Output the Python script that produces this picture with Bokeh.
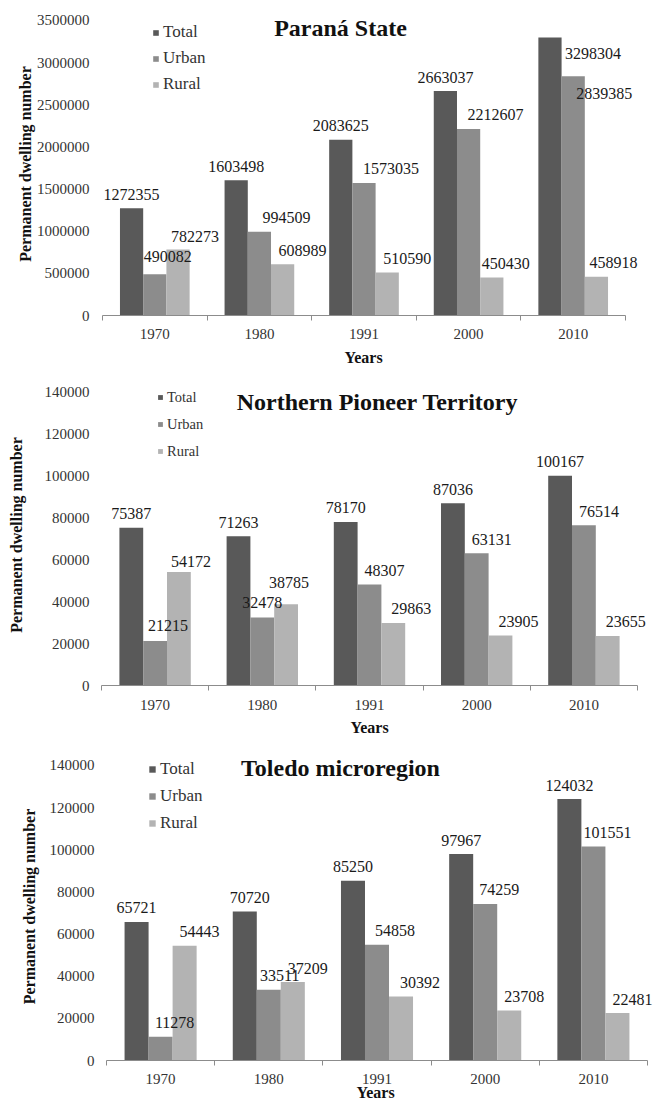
import numpy as np
from bokeh.plotting import figure
from bokeh.models import (ColumnDataSource, Range1d, FixedTicker, Legend, LegendItem,
                          Label, LabelSet, BasicTickFormatter)
from bokeh.layouts import column
from bokeh.embed import file_html
from bokeh.resources import INLINE
from bokeh.transform import dodge

# ---------------- data ----------------
years = ["1970", "1980", "1991", "2000", "2010"]
series = ["Total", "Urban", "Rural"]

parana_total = [1272355, 1603498, 2083625, 2663037, 3298304]
parana_urban = [490082, 994509, 1573035, 2212607, 2839385]
parana_rural = [782273, 608989, 510590, 450430, 458918]

north_total = [75387, 71263, 78170, 87036, 100167]
north_urban = [21215, 32478, 48307, 63131, 76514]
north_rural = [54172, 38785, 29863, 23905, 23655]

toledo_total = [65721, 70720, 85250, 97967, 124032]
toledo_urban = [11278, 33511, 54858, 74259, 101551]
toledo_rural = [54443, 37209, 30392, 23708, 22481]

titles = ["Paraná State", "Northern Pioneer Territory", "Toledo microregion"]
y_max = [3500000, 140000, 140000]
y_step = [500000, 20000, 20000]

# ---------------- style / layout (page pixels) ----------------
COLORS = ["#595959", "#8c8c8c", "#b3b3b3"]
SERIF = "Liberation Serif"
W = 654
FRAME_L = 100
FRAME_R = 654
BAR_W = 0.222
OFFS = [-BAR_W, 0.0, BAR_W]
NBSP = "\u00a0"
LABEL_DY = 14  # default: label centre this many px above the bar top

panels = [
    dict(values=[parana_total, parana_urban, parana_rural], title=titles[0], ymax=y_max[0], step=y_step[0],
         top=0, height=368, ax_a=102, ax_b=625, y0=316, ymax_px=20, frame_top=12,
         title_xy=(340, 28), leg_x=152, leg_row1=33, leg_size="17px", leg_glyph=7, leg_spacing=6,
         ytick_standoff=11, ylab_standoff=0, xtick_standoff=8, years_standoff=7, years_pad=7,
         lab_dx=[0, 27, 20],
         # manual label nudges (series index, year index) -> (dx px, dy px)
         nudges={(1, 0): (13, 18), (2, 0): (17, 13), (2, 3): (14, 14),
                 (0, 4): (43, -16), (1, 4): (31, -17), (2, 4): (17, 14)}),
    dict(values=[north_total, north_urban, north_rural], title=titles[1], ymax=y_max[1], step=y_step[1],
         top=368, height=370, ax_a=101, ax_b=637, y0=686, ymax_px=392, frame_top=384,
         title_xy=(377, 402), leg_x=157, leg_row1=398, leg_size="14.5px", leg_glyph=6, leg_spacing=7,
         ytick_standoff=11, ylab_standoff=17, xtick_standoff=9, years_standoff=6, years_pad=4,
         lab_dx=[0, 15, 18],
         nudges={(1, 1): (0, 15), (2, 1): (3, 22), (1, 0): (13, 16), (2, 0): (12, 11)}),
    dict(values=[toledo_total, toledo_urban, toledo_rural], title=titles[2], ymax=y_max[2], step=y_step[2],
         top=738, height=365, ax_a=106, ax_b=647, y0=1062, ymax_px=765, frame_top=752,
         title_xy=(340, 768), leg_x=148, leg_row1=771, leg_size="17px", leg_glyph=8, leg_spacing=7,
         ytick_standoff=6, ylab_standoff=9, xtick_standoff=8, years_standoff=-3, years_pad=1,
         lab_dx=[0, 14, 15],
         nudges={(0, 1): (5, 14), (1, 1): (11, 14), (1, 2): (18, 14), (2, 2): (19, 14)}),
]

pos = np.arange(len(years)) + 0.5
n = len(years)


def make_panel(cfg):
    a, b = cfg["ax_a"], cfg["ax_b"]
    y0, ytop = cfg["y0"], cfg["ymax_px"]
    ymax = cfg["ymax"]

    def dx(px):
        return (px - a) / (b - a) * n

    def dy(py):
        return (y0 - py) / (y0 - ytop) * ymax

    p = figure(width=W, height=cfg["height"], output_backend="svg", toolbar_location=None,
               title=None,
               x_range=Range1d(dx(FRAME_L), dx(FRAME_R)),
               y_range=Range1d(0, dy(cfg["frame_top"])),
               min_border_left=FRAME_L, min_border_right=W - FRAME_R,
               min_border_top=cfg["frame_top"] - cfg["top"],
               min_border_bottom=cfg["top"] + cfg["height"] - y0)
    p.outline_line_color = None
    p.xgrid.visible = False
    p.ygrid.visible = False
    p.background_fill_color = "white"
    p.border_fill_color = "white"

    items = []
    for k, name in enumerate(series):
        vals = cfg["values"][k]
        xo = [cfg["nudges"].get((k, i), (cfg["lab_dx"][k], LABEL_DY))[0] for i in range(n)]
        yo = [cfg["nudges"].get((k, i), (cfg["lab_dx"][k], LABEL_DY))[1] for i in range(n)]
        src = ColumnDataSource(dict(pos=pos, v=vals, t=[str(v) for v in vals], xo=xo, yo=yo))
        r = p.vbar(x=dodge("pos", OFFS[k]), top="v", width=BAR_W, bottom=0, source=src,
                   fill_color=COLORS[k], line_color=None)
        items.append(LegendItem(label=name, renderers=[r]))
        ls = LabelSet(x=dodge("pos", OFFS[k]), y="v", text="t", source=src,
                      x_offset="xo", y_offset="yo",
                      text_font=SERIF, text_font_size="16px", text_color="#1a1a1a",
                      text_align="center", text_baseline="middle")
        p.add_layout(ls)

    # y axis
    ya = p.yaxis[0]
    ya.ticker = FixedTicker(ticks=list(range(0, ymax + 1, cfg["step"])))
    ya.formatter = BasicTickFormatter(use_scientific=False)
    ya.axis_line_color = None
    ya.major_tick_line_color = None
    ya.minor_tick_line_color = None
    ya.major_tick_out = 0
    ya.major_tick_in = 0
    ya.major_label_standoff = cfg["ytick_standoff"]
    ya.major_label_text_font = SERIF
    ya.major_label_text_font_size = "15px"
    ya.major_label_text_color = "#333333"
    ya.axis_label = "Permanent dwelling number"
    ya.axis_label_text_font = SERIF
    ya.axis_label_text_font_style = "bold"
    ya.axis_label_text_font_size = "16px"
    ya.axis_label_text_color = "#111111"
    ya.axis_label_standoff = cfg["ylab_standoff"]

    # x axis
    xa = p.xaxis[0]
    xa.bounds = (0, n)
    xa.ticker = FixedTicker(ticks=list(pos), minor_ticks=list(range(n + 1)))
    xa.major_label_overrides = {float(x): y for x, y in zip(pos, years)}
    xa.axis_line_color = "#8c8c8c"
    xa.major_tick_line_color = None
    xa.major_tick_out = 0
    xa.major_tick_in = 0
    xa.minor_tick_line_color = "#8c8c8c"
    xa.minor_tick_out = 5
    xa.minor_tick_in = 0
    xa.major_label_standoff = cfg["xtick_standoff"]
    xa.major_label_text_font = SERIF
    xa.major_label_text_font_size = "15px"
    xa.major_label_text_color = "#333333"
    xa.axis_label = "Years" + NBSP * cfg["years_pad"]
    xa.axis_label_text_font = SERIF
    xa.axis_label_text_font_style = "bold"
    xa.axis_label_text_font_size = "16px"
    xa.axis_label_text_color = "#111111"
    xa.axis_label_standoff = cfg["years_standoff"]

    # title inside the plot area
    tx, ty = cfg["title_xy"]
    p.add_layout(Label(x=dx(tx), y=dy(ty), text=cfg["title"],
                       text_font=SERIF, text_font_style="bold", text_font_size="24px",
                       text_color="#111111", text_align="center", text_baseline="middle"))

    # legend
    lab_h = 20
    sp = cfg["leg_spacing"]
    leg_h = 3 * lab_h + 2 * sp
    leg_bottom = cfg["leg_row1"] - lab_h / 2 + leg_h
    leg = Legend(items=items, location=(cfg["leg_x"] - FRAME_L, y0 - leg_bottom),
                 orientation="vertical", border_line_color=None, background_fill_alpha=0,
                 padding=0, margin=0, spacing=sp, label_height=lab_h,
                 glyph_width=cfg["leg_glyph"], glyph_height=cfg["leg_glyph"], label_standoff=4,
                 label_text_font=SERIF, label_text_font_size=cfg["leg_size"],
                 label_text_color="#333333", label_text_baseline="middle")
    p.add_layout(leg, "center")
    return p


figs = [make_panel(c) for c in panels]
layout = column(*figs, spacing=0)

open("out.html", "w").write(file_html(layout, INLINE))
